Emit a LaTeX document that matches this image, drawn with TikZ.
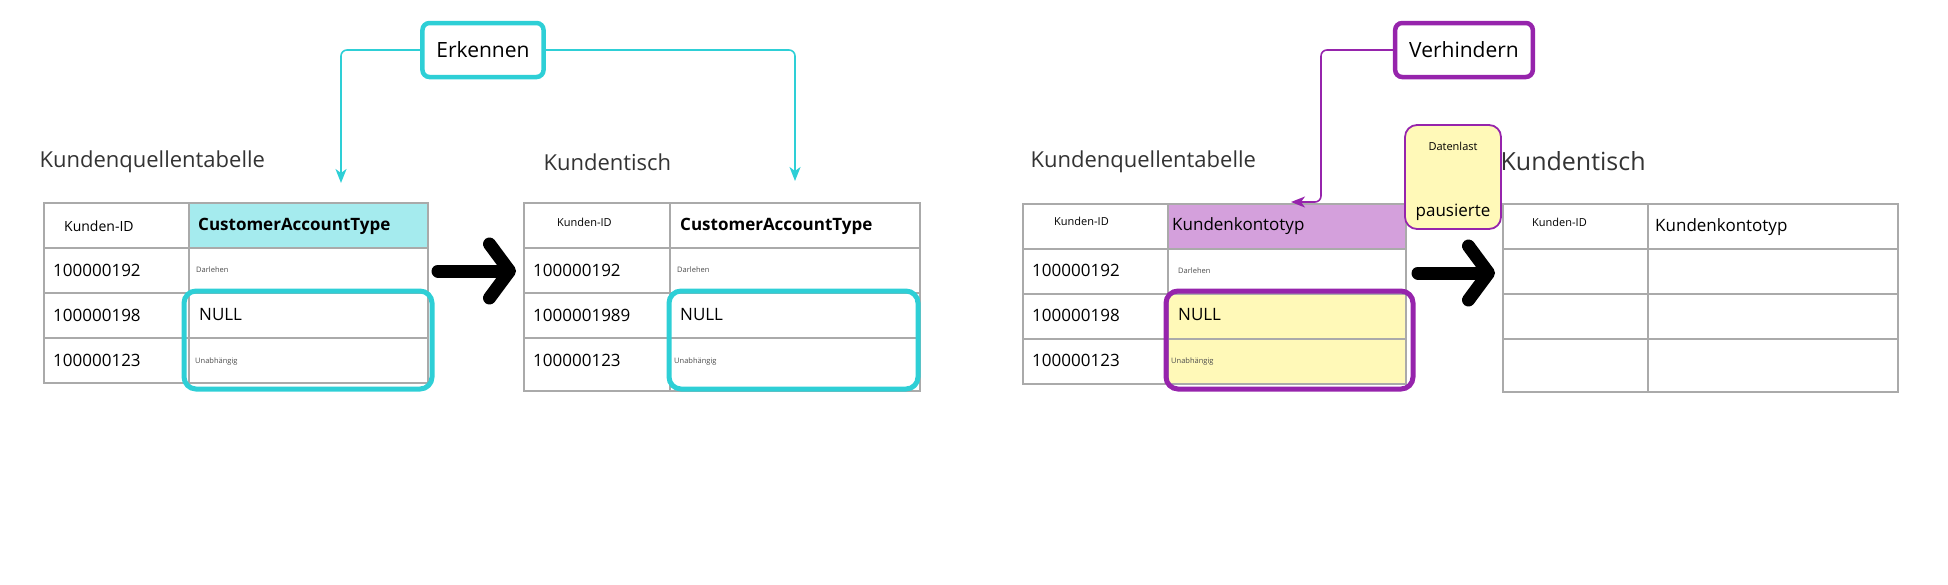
\documentclass[tikz,border=0pt]{standalone}
\usepackage{fontspec}
\setmainfont{Open Sans}
\usetikzlibrary{arrows.meta,positioning}
\definecolor{cy}{RGB}{46, 207, 214}
\definecolor{cylight}{RGB}{165, 235, 238}
\definecolor{pu}{RGB}{150, 36, 172}
\definecolor{pulight}{RGB}{212, 160, 220}
\definecolor{ye}{RGB}{255, 249, 184}
\definecolor{gridgray}{RGB}{170, 170, 170}
\tikzset{
	x=1pt, y=-1pt,
	%
	tablegrid/.style={draw=gridgray, line width=1.6pt},
	%
	tagbox/.style={
		rectangle, rounded corners=7pt, line width=4.5pt, fill=white,
		inner xsep=14pt, minimum height=54pt, font=\fontsize{21}{24}\selectfont
	},
	%
	title/.style={anchor=west, font=\fontsize{22}{25}\selectfont, text=black!80},
	cell/.style={anchor=west, inner sep=0pt, font=\fontsize{17}{20}\selectfont},
	tiny/.style={anchor=west, inner sep=0pt, font=\fontsize{7.5}{9}\selectfont, text=black!70},
	%
	hilite/.style={rounded corners=12pt, line width=5pt},
	link/.style={line width=1.6pt, rounded corners=6pt, -{Stealth[length=14pt, width=11pt, inset=4pt]}},
	bigarrow/.style={line width=13pt, line cap=round,
		-{Straight Barb[round, length=20pt, width=54pt, line width=13pt]}}
}
\begin{document}
\begin{tikzpicture}
    \useasboundingbox (0,0) rectangle (1948,584);
    % left half: Erkennen
    \fill[cylight] (189,203) rectangle (428,248);
    \draw[tablegrid] (44,203) rectangle (428,383) (189,203) -- (189,383);
    \foreach \y in {248,293,338} \draw[tablegrid] (44,\y) -- (428,\y);
    \draw[tablegrid] (524,203) rectangle (920,391) (670,203) -- (670,391);
    \foreach \y in {248,293,338} \draw[tablegrid] (524,\y) -- (920,\y);
    \node(srcA)[title] at (36,162) {Kundenquellentabelle};
    \node(dstA)[title] at (540,162) {Kundentisch};
    \node(a11)[cell, font=\fontsize{14}{16}\selectfont] at (64,226) {Kunden-ID};
    \node(a12)[cell, font=\fontsize{17}{20}\bfseries] at (198,226) {CustomerAccountType};
    \node(a21)[cell] at (53,270) {100000192};
    \node(a22)[tiny] at (196,270) {Darlehen};
    \node(a31)[cell] at (53,315) {100000198};
    \node(a32)[cell] at (199,315) {NULL};
    \node(a41)[cell] at (53,360) {100000123};
    \node(a42)[tiny] at (195,362) {Unabhängig};
    \node(b11)[cell, font=\fontsize{11}{13}\selectfont] at (557,222) {Kunden-ID};
    \node(b12)[cell, font=\fontsize{17}{20}\bfseries] at (680,226) {CustomerAccountType};
    \node(b21)[cell] at (533,270) {100000192};
    \node(b22)[tiny] at (677,270) {Darlehen};
    \node(b31)[cell] at (533,315) {1000001989};
    \node(b32)[cell] at (680,315) {NULL};
    \node(b41)[cell] at (533,360) {100000123};
    \node(b42)[tiny] at (674,362) {Unabhängig};
    \draw[hilite, cy] (184,291) rectangle (432,389);
    \draw[hilite, cy] (669,291) rectangle (918,389);
    \node(erk)[tagbox, draw=cy] at (483,50) {Erkennen};
    \coordinate(erkL) at (341,183);
    \coordinate(erkR) at (795,181);
    \draw[link, cy] (erk.west) -| (erkL);
    \draw[link, cy] (erk.east) -| (erkR);
    \coordinate(arrA1) at (438,271);
    \coordinate(arrA2) at (516,271);
    \draw[bigarrow] (arrA1) -- (arrA2);
    % right half: Verhindern
    \fill[pulight] (1168,204) rectangle (1406,249);
    \fill[ye] (1168,294) rectangle (1406,384);
    \draw[tablegrid] (1023,204) rectangle (1406,384) (1168,204) -- (1168,384);
    \foreach \y in {249,294,339} \draw[tablegrid] (1023,\y) -- (1406,\y);
    \draw[tablegrid] (1503,204) rectangle (1898,392) (1648,204) -- (1648,392);
    \foreach \y in {249,294,339} \draw[tablegrid] (1503,\y) -- (1898,\y);
    \node(srcB)[title] at (1027,162) {Kundenquellentabelle};
    \node(dstB)[title, font=\fontsize{25}{28}\selectfont] at (1497,161) {Kundentisch};
    \node(c11)[cell, font=\fontsize{11}{13}\selectfont] at (1054,221) {Kunden-ID};
    \node(c12)[cell] at (1172,226) {Kundenkontotyp};
    \node(c21)[cell] at (1032,270) {100000192};
    \node(c22)[tiny] at (1178,271) {Darlehen};
    \node(c31)[cell] at (1032,315) {100000198};
    \node(c32)[cell] at (1178,315) {NULL};
    \node(c41)[cell] at (1032,360) {100000123};
    \node(c42)[tiny] at (1171,362) {Unabhängig};
    \node(d11)[cell, font=\fontsize{11}{13}\selectfont] at (1532,222) {Kunden-ID};
    \node(d12)[cell] at (1655,227) {Kundenkontotyp};
    \draw[hilite, pu] (1166,291) rectangle (1413,389);
    \node(ver)[tagbox, draw=pu] at (1464,50) {Verhindern};
    \coordinate(verT) at (1291,202);
    \draw[link, pu] (ver.west) -| (1321,202) -- (verT);
    \node(note)[rectangle, rounded corners=12pt, fill=ye, draw=pu, line width=1.8pt,
        minimum width=96pt, minimum height=104pt] at (1453,177) {};
    \node(noteA)[font=\fontsize{11}{13}\selectfont] at (1453,146) {Datenlast};
    \node(noteB)[font=\fontsize{17}{20}\selectfont] at (1453,212) {pausierte};
    \coordinate(arrB1) at (1418,273);
    \coordinate(arrB2) at (1495,273);
    \draw[bigarrow] (arrB1) -- (arrB2);
\end{tikzpicture}
\end{document}
